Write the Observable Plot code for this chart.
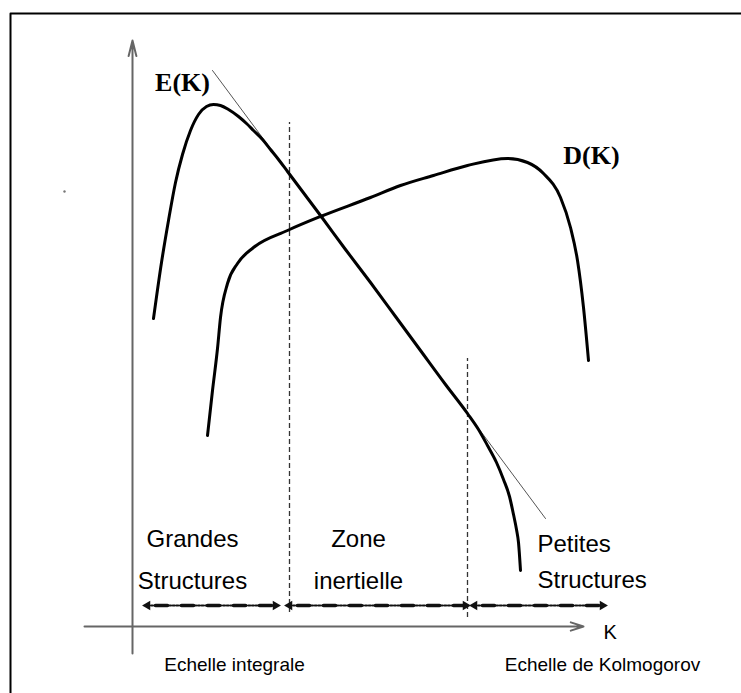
<!DOCTYPE html>
<html>
<head>
<meta charset="utf-8">
<script src="https://cdn.jsdelivr.net/npm/d3@7"></script>
<script src="https://cdn.jsdelivr.net/npm/@observablehq/plot@0.6"></script>
<style>
  html, body { margin: 0; padding: 0; background: #fff; }
  #chart svg { display: block; }
</style>
</head>
<body>
<div id="chart"></div>
<script>
// Schematic spectrum: K (wavenumber) horizontally, amplitude vertically (arbitrary units)
const energyK = [21,29,36,43,50,58,66,74,81,88,96,106,114,121,130,138,146,155,170,188,213,238,263,288,313,335,346,355,364,371,377,381,384,386,388];
const energyE = [308,364,406,444,472,496,512,520,522,521,517,510,503,496,487,477,467,455,435,411,377,344,310,276,242,213,197,181,164,147,130,112,97,84,56];

const dissK = [75,80,85,88,95,105,121,155,188,238,268,301,335,375,395,411,428,438,445,451,456];
const dissD = [191,236,278,309,343,363,379,396,410,429,441,451,461,468,464,453,429,399,366,319,266];

// -5/3 law guide line (two end points)
const slopeK = [80, 413];
const slopeE = [556, 108];

// zone limits (integral scale, Kolmogorov scale)
const limitK = [157, 335];
const limitTop = [504, 268];
const limitBottom = [14, 9];

// range arrows
const zoneStart = [15, 157, 342];
const zoneEnd = [143, 333, 470];
const zoneLevel = 21;

// zone labels
const zoneLabelK = [60, 226, 405];
const zoneLine1 = ["Grandes", "Zone", "Petites"];
const zoneLine2 = ["Structures", "inertielle", "Structures"];
const zoneLine1Y = [80, 80, 75];
const zoneLine2Y = [38, 38, 39];

const scaleLabels = ["Echelle integrale", "Echelle de Kolmogorov"];
const scaleLabelK = [102, 470];

const E = energyK.map((k, i) => ({k, v: energyE[i]}));
const D = dissK.map((k, i) => ({k, v: dissD[i]}));
const slope = slopeK.map((k, i) => ({k, v: slopeE[i]}));
const limits = limitK.map((k, i) => ({k, top: limitTop[i], bottom: limitBottom[i]}));
const zones = zoneStart.map((s, i) => ({s, e: zoneEnd[i], y: zoneLevel}));
const zoneLines = zones.flatMap((z, i) => [{k: z.s, v: z.y, id: i}, {k: z.e, v: z.y, id: i}]);
const labels = zoneLabelK.map((k, i) => ({k, a: zoneLine1[i], b: zoneLine2[i], ya: zoneLine1Y[i], yb: zoneLine2Y[i], right: i === 2}));
const frame = [{k: -122, v: -80}, {k: -122, v: 613}, {k: 620, v: 613}];

const sans = "Liberation Sans, Arial, sans-serif";
const serif = "Liberation Serif, Times New Roman, serif";

const labelMarks = (filter, anchor) => [
  Plot.text(labels, {filter, x: "k", y: "ya", text: "a", textAnchor: anchor, fontFamily: sans, fontSize: 24, lineAnchor: "bottom", fill: "#000"}),
  Plot.text(labels, {filter, x: "k", y: "yb", text: "b", textAnchor: anchor, fontFamily: sans, fontSize: 24, lineAnchor: "bottom", fill: "#000"})
];

const chart = Plot.plot({
  width: 741,
  height: 693,
  margin: 0,
  x: {domain: [-132, 609], axis: null},
  y: {domain: [-67, 626], axis: null},
  style: {background: "#fff", overflow: "visible"},
  marks: [
    // outer frame
    Plot.line(frame, {x: "k", y: "v", stroke: "#000", strokeWidth: 2}),
    // stray dot
    Plot.dot([{k: -68, v: 435}], {x: "k", y: "v", r: 1.2, fill: "#777", stroke: null}),
    // axes
    Plot.arrow([{x1: 0, y1: -27, x2: 0, y2: 586}], {x1: "x1", y1: "y1", x2: "x2", y2: "y2", stroke: "#666", strokeWidth: 2, headLength: 12, headAngle: 28}),
    Plot.arrow([{x1: -48, y1: 0, x2: 451, y2: 0}], {x1: "x1", y1: "y1", x2: "x2", y2: "y2", stroke: "#666", strokeWidth: 2, headLength: 10, headAngle: 36}),
    // zone limits
    Plot.ruleX(limits, {x: "k", y1: "bottom", y2: "top", stroke: "#333", strokeWidth: 1.3, strokeDasharray: "5,3"}),
    // range arrows
    Plot.line(zoneLines, {x: "k", y: "v", z: "id", stroke: "#111", strokeWidth: 2, strokeDasharray: "2,1.6"}),
    Plot.line(zoneLines, {x: "k", y: "v", z: "id", stroke: "#111", strokeWidth: 3.5, strokeDasharray: "12,14", strokeDashoffset: -8}),
    Plot.dot(zones, {x: "s", y: "y", symbol: "triangle", r: 3.5, rotate: -90, fill: "#111", stroke: null}),
    Plot.dot(zones, {x: "e", y: "y", symbol: "triangle", r: 3.5, rotate: 90, fill: "#111", stroke: null}),
    // -5/3 guide
    Plot.line(slope, {x: "k", y: "v", stroke: "#555", strokeWidth: 1}),
    // curves
    Plot.line(E, {x: "k", y: "v", curve: "monotone-x", stroke: "#000", strokeWidth: 3}),
    Plot.line(D, {x: "k", y: "v", curve: "monotone-x", stroke: "#000", strokeWidth: 3}),
    // curve labels
    Plot.text([{k: 50, v: 536, t: "E(K)"}, {k: 459, v: 463, t: "D(K)"}], {x: "k", y: "v", text: "t", fontFamily: serif, fontWeight: "bold", fontSize: 26, textAnchor: "middle", lineAnchor: "bottom", fill: "#000"}),
    // zone labels
    ...labelMarks(d => !d.right, "middle"),
    ...labelMarks(d => d.right, "start"),
    // axis label
    Plot.text([{k: 471, v: -12, t: "K"}], {x: "k", y: "v", text: "t", fontFamily: sans, fontSize: 20, textAnchor: "start", lineAnchor: "bottom", fill: "#000"}),
    // scale labels
    Plot.text(scaleLabels.map((t, i) => ({t, k: scaleLabelK[i]})), {x: "k", y: -44, text: "t", fontFamily: sans, fontSize: 19, textAnchor: "middle", lineAnchor: "bottom", fill: "#000"})
  ]
});

document.getElementById("chart").append(chart);
</script>
</body>
</html>
